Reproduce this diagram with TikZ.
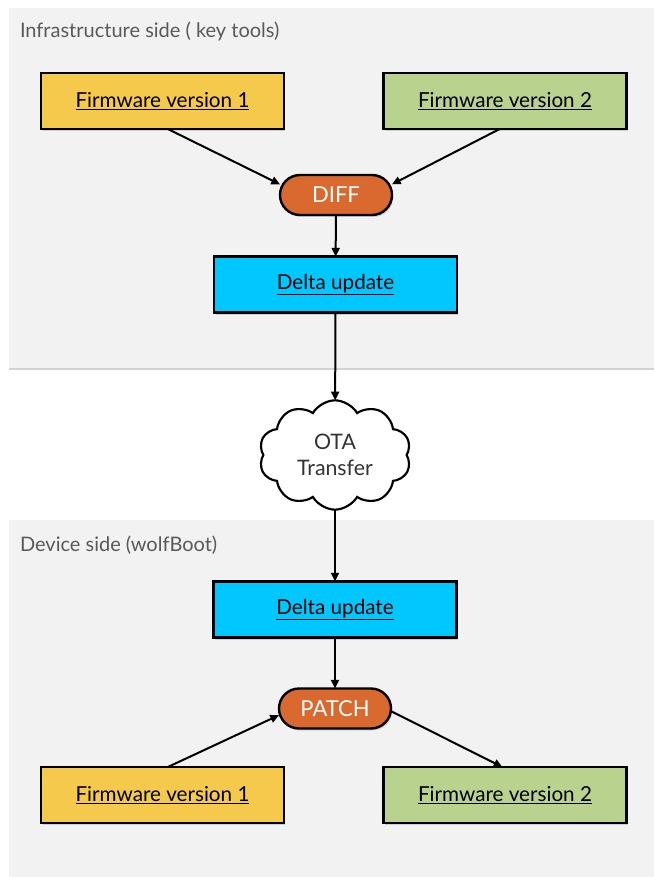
\documentclass[tikz,border=0pt]{standalone}
\usepackage{fontspec}
\setmainfont{Lato}
\usetikzlibrary{positioning,shapes.symbols,shadows,arrows.meta}
\definecolor{panelgray}{HTML}{F2F2F2}
\definecolor{fwold}{HTML}{F5C94C}
\definecolor{fwnew}{HTML}{B9D38E}
\definecolor{deltablue}{HTML}{00C8FF}
\definecolor{toolorange}{HTML}{DA6930}
\definecolor{titlegray}{HTML}{595959}

\begin{document}
\begin{tikzpicture}[
    x=0.75pt,y=-0.75pt,
    every node/.style={
        inner sep=0pt,
        outer sep=0pt,
    },
    panel/.style={
        fill=panelgray,
        drop shadow={opacity=.35,shadow xshift=0pt,shadow yshift=-1.5pt},
    },
    paneltitle/.style={
        anchor=base west,
        text=titlegray,
        font=\fontsize{15}{17}\selectfont,
    },
    box/.style={
        draw=black,
        line width=1.8pt,
        fill=#1,
        rectangle,
        minimum width=182pt,
        minimum height=42pt,
        font=\fontsize{15.5}{17}\selectfont,
        drop shadow={opacity=.3,shadow xshift=1pt,shadow yshift=-1.5pt},
    },
    tool/.style={
        draw=black,
        line width=1.8pt,
        fill=toolorange,
        rectangle,
        rounded corners=15pt,
        minimum width=84pt,
        minimum height=30pt,
        text=white,
        font=\fontsize{16.5}{18}\selectfont,
        drop shadow={opacity=.3,shadow xshift=1pt,shadow yshift=-1.5pt},
    },
    arrow/.style={
        -{Triangle[length=6.5pt,width=6pt]},
        line width=1.5pt,
    },
]
    \useasboundingbox (0,0) rectangle (653,877);
    % panels
    \fill[panel] (9,8) rectangle (660,368);
    \fill[panel] (9,520) rectangle (660,890);
    \node[paneltitle] (infra) at (20,38) {Infrastructure side ( key tools)};
    \node[paneltitle] (device) at (20,551) {Device side (wolfBoot)};

    % infrastructure side
    \node[box=fwold] (fwa) at (162.5,101) {\underline{Firmware version 1}};
    \node[box=fwnew] (fwb) at (505,101) {\underline{Firmware version 2}};
    \node[tool] (diff) at (336,195) {DIFF};
    \node[box=deltablue] (deltaa) at (335.5,284.5) {\underline{Delta update}};

    % transfer
    \node[cloud,draw,line width=1.6pt,fill=white,cloud puffs=10,cloud puff arc=120,
        aspect=1.35,minimum width=114pt,minimum height=82pt,align=center,
        text=black!80,font=\fontsize{16}{19}\selectfont] (ota) at (335,455) {OTA\\Transfer};

    % device side
    \node[box=deltablue] (deltab) at (335,609.5) {\underline{Delta update}};
    \node[tool] (patch) at (335,708.5) {PATCH};
    \node[box=fwold] (fwc) at (162.5,795) {\underline{Firmware version 1}};
    \node[box=fwnew] (fwd) at (505,795) {\underline{Firmware version 2}};

    \draw[arrow] ([xshift=4pt]fwa.south) -- ([yshift=8pt]diff.west);
    \draw[arrow] ([xshift=-4pt]fwb.south) -- ([yshift=8pt]diff.east);
    \draw[arrow] (diff) -- (deltaa);
    \draw[arrow] (deltaa) -- (ota);
    \draw[arrow] (ota) -- (deltab);
    \draw[arrow] (deltab) -- (patch);
    \draw[arrow] ([xshift=4pt]fwc.north) -- ([yshift=-5pt]patch.west);
    \draw[arrow] ([yshift=-2pt]patch.east) -- ([xshift=-2pt]fwd.north);
\end{tikzpicture}
\end{document}
